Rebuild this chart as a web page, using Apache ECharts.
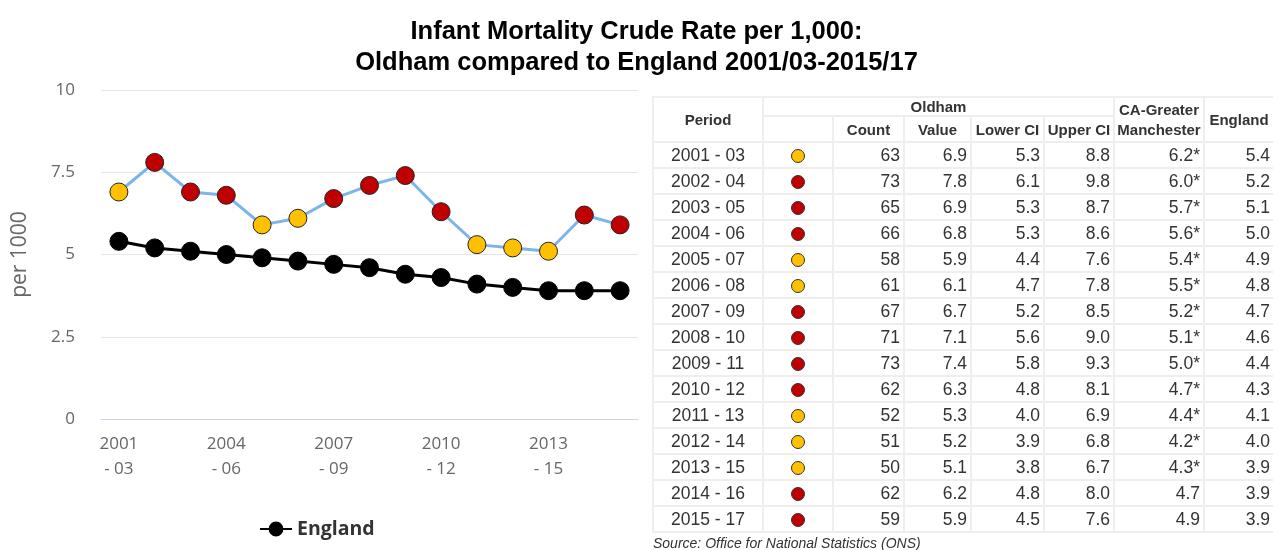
<!DOCTYPE html>
<html>
<head>
<meta charset="utf-8">
<script src="https://cdn.jsdelivr.net/npm/echarts@6/dist/echarts.min.js"></script>
<style>
  html, body { margin: 0; padding: 0; background: #fff; }
  #chart { position: absolute; left: 0; top: 0; width: 1273px; height: 550px; }
  #tableWrap { position: absolute; left: 652px; top: 96px; }
  table { border-collapse: collapse; table-layout: fixed; width: 621px; font-family: "Liberation Sans", Arial, sans-serif; color: #333; }
  td, th { border: 2px solid #eeeeee; padding: 0 3px; height: 24px; font-size: 17.5px; white-space: nowrap; overflow: hidden; }
  th { font-size: 15px; font-weight: bold; text-align: center; line-height: 17px; padding: 0 1px; }
  th.twoLine { line-height: 20px; }
  td { text-align: right; }
  td.period { text-align: center; }
  td.dot { text-align: center; }
  .dot span { display: inline-block; width: 12px; height: 12px; border-radius: 50%; border: 1px solid #333; vertical-align: middle; }
  #source { position: absolute; left: 653px; top: 535px; font: italic 14px "Liberation Sans", Arial, sans-serif; color: #333; }
</style>
</head>
<body>
<div id="chart"></div>
<div id="tableWrap"></div>
<div id="source">Source: Office for National Statistics (ONS)</div>
<script>
const periods = ["2001 - 03", "2002 - 04", "2003 - 05", "2004 - 06", "2005 - 07", "2006 - 08", "2007 - 09",
  "2008 - 10", "2009 - 11", "2010 - 12", "2011 - 13", "2012 - 14", "2013 - 15", "2014 - 16", "2015 - 17"];
const oldhamCount = [63, 73, 65, 66, 58, 61, 67, 71, 73, 62, 52, 51, 50, 62, 59];
const oldhamValue = [6.9, 7.8, 6.9, 6.8, 5.9, 6.1, 6.7, 7.1, 7.4, 6.3, 5.3, 5.2, 5.1, 6.2, 5.9];
const lowerCI = [5.3, 6.1, 5.3, 5.3, 4.4, 4.7, 5.2, 5.6, 5.8, 4.8, 4.0, 3.9, 3.8, 4.8, 4.5];
const upperCI = [8.8, 9.8, 8.7, 8.6, 7.6, 7.8, 8.5, 9.0, 9.3, 8.1, 6.9, 6.8, 6.7, 8.0, 7.6];
const greaterManchester = ["6.2*", "6.0*", "5.7*", "5.6*", "5.4*", "5.5*", "5.2*", "5.1*", "5.0*", "4.7*", "4.4*", "4.2*", "4.3*", "4.7", "4.9"];
const england = [5.4, 5.2, 5.1, 5.0, 4.9, 4.8, 4.7, 4.6, 4.4, 4.3, 4.1, 4.0, 3.9, 3.9, 3.9];
// significance compared with England: "higher" = red, "similar" = amber
const status = ["similar", "higher", "higher", "higher", "similar", "similar", "higher", "higher", "higher",
  "higher", "similar", "similar", "similar", "higher", "higher"];
const statusColor = { higher: "#c00000", similar: "#ffc000" };

// table
const colWidths = [110, 70, 71, 67, 73, 70, 90, 70];
let html = '<table><colgroup>' + colWidths.map(w => '<col style="width:' + w + 'px">').join('') + '</colgroup>' +
  '<tr><th rowspan="2">Period</th><th colspan="5" style="height:17px">Oldham</th>' +
  '<th rowspan="2" class="twoLine">CA-Greater<br>Manchester</th><th rowspan="2">England</th></tr>' +
  '<tr><th style="height:23px"></th><th>Count</th><th>Value</th><th>Lower CI</th><th>Upper CI</th></tr>';
periods.forEach((p, i) => {
  html += '<tr><td class="period">' + p + '</td><td class="dot"><span style="background:' + statusColor[status[i]] + '"></span></td>' +
    '<td>' + oldhamCount[i] + '</td><td>' + oldhamValue[i].toFixed(1) + '</td><td>' + lowerCI[i].toFixed(1) + '</td>' +
    '<td>' + upperCI[i].toFixed(1) + '</td><td>' + greaterManchester[i] + '</td><td>' + england[i].toFixed(1) + '</td></tr>';
});
html += '</table>';
document.getElementById("tableWrap").innerHTML = html;

const chart = echarts.init(document.getElementById("chart"));
const axisFont = "'Open Sans', sans-serif";

chart.setOption({
  animation: false,
  title: {
    text: "Infant Mortality Crude Rate per 1,000:\nOldham compared to England 2001/03-2015/17",
    left: "center",
    top: 11,
    textStyle: { fontFamily: "'Liberation Sans', Arial", fontWeight: "bold", fontSize: 25.5, color: "#000", lineHeight: 31 },
  },
  legend: {
    data: ["England"],
    left: 254,
    top: 514,
    itemWidth: 32,
    itemHeight: 16,
    textStyle: { fontFamily: axisFont, fontWeight: "bold", fontSize: 19.5, color: "#333" },
  },
  grid: { left: 101, right: 635, top: 90, bottom: 131 },
  xAxis: {
    type: "category",
    data: periods,
    boundaryGap: true,
    axisLine: { lineStyle: { color: "#ccd6eb", width: 1 } },
    axisTick: { alignWithLabel: true, interval: 0, length: 6, lineStyle: { color: "#ccd6eb" } },
    axisLabel: {
      interval: 2,
      margin: 13,
      fontFamily: axisFont,
      fontSize: 17,
      lineHeight: 25,
      color: "#666",
      formatter: (v) => v.replace(" - ", "\n- "),
    },
  },
  yAxis: {
    type: "value",
    min: 0,
    max: 10,
    interval: 2.5,
    name: "per 1000",
    nameLocation: "middle",
    nameGap: 70,
    nameTextStyle: { fontFamily: axisFont, fontSize: 21, color: "#666" },
    axisLabel: { margin: 26, fontFamily: axisFont, fontSize: 17, color: "#666" },
    splitLine: { lineStyle: { color: "#e6e6e6" } },
  },
  series: [
    {
      name: "Oldham",
      type: "line",
      data: oldhamValue.map((v, i) => ({ value: v, itemStyle: { color: statusColor[status[i]] } })),
      symbol: "circle",
      symbolSize: 18,
      lineStyle: { color: "#7cb5ec", width: 3 },
      itemStyle: { borderColor: "#222", borderWidth: 1 },
      z: 3,
    },
    {
      name: "England",
      type: "line",
      data: england,
      symbol: "circle",
      symbolSize: 18,
      lineStyle: { color: "#000", width: 3 },
      itemStyle: { color: "#000", borderColor: "#000", borderWidth: 1 },
      z: 2,
    },
  ],
});
</script>
</body>
</html>
